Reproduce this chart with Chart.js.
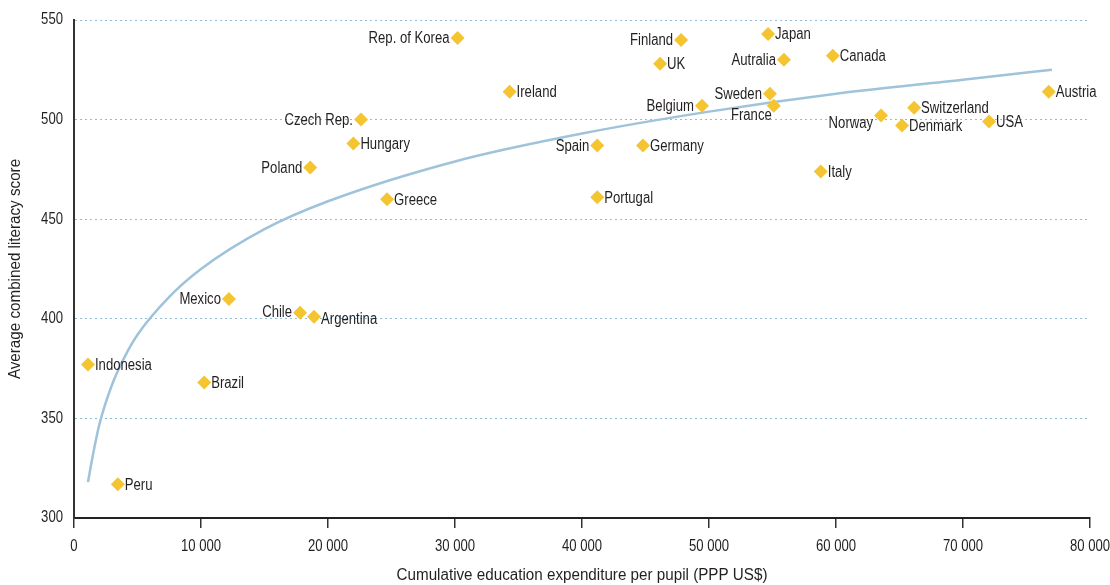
<!DOCTYPE html>
<html>
<head>
<meta charset="utf-8">
<script src="https://cdn.jsdelivr.net/npm/chart.js@4"></script>
<style>
  html, body { margin: 0; padding: 0; background: #fff; }
  #wrap { width: 1110px; height: 585px; }
</style>
</head>
<body>
<div id="wrap"><canvas id="chart-literacy"></canvas></div>
<script>
const FONT = "'Liberation Sans', Arial, sans-serif";
const TEXT_COLOR = "#231f20";
const NARROW = 0.82; // squeeze Liberation Sans into a narrow face

// countries, spending (PPP US$) and literacy score
const COUNTRIES = [
  "Rep. of Korea", "Ireland", "Czech Rep.", "Hungary", "Poland", "Greece",
  "Mexico", "Chile", "Argentina", "Indonesia", "Brazil", "Peru",
  "Finland", "UK", "Japan", "Autralia", "Canada", "Sweden", "France",
  "Belgium", "Spain", "Germany", "Portugal", "Italy", "Norway",
  "Switzerland", "Denmark", "USA", "Austria",
];
const SPENDING = [
  30200, 34300, 22600, 22000, 18600, 24650,
  12200, 17800, 18900, 1100, 10250, 3450,
  47800, 46150, 54650, 55900, 59750, 54800, 55100,
  49450, 41200, 44800, 41200, 58800, 63550,
  66150, 65200, 72050, 76750,
];
const SCORES = [
  541, 514, 500, 488, 476, 460,
  410, 403, 401, 377, 368, 317,
  540, 528, 543, 530, 532, 513, 507,
  507, 487, 487, 461, 474, 502,
  506, 497, 499, 514,
];

// trend curve
const TREND_X = [1100, 1500, 2000, 3000, 4000, 5000, 7500, 10000, 15000, 20000, 30000, 40000, 50000, 60000, 70000, 77000];
const TREND_Y = [318, 332, 347, 367, 381, 392, 411, 425, 445, 459, 479, 493, 504, 513, 520, 525];

const X_TICKS = [0, 10000, 20000, 30000, 40000, 50000, 60000, 70000, 80000];
const Y_TICKS = [300, 350, 400, 450, 500, 550];
const X_TITLE = "Cumulative education expenditure per pupil (PPP US$)";
const Y_TITLE = "Average combined literacy score";

// label placement: side of the marker, nudge in px
const LABEL_LEFT = ["Rep. of Korea", "Czech Rep.", "Poland", "Mexico", "Chile",
  "Finland", "Autralia", "Sweden", "Belgium", "Spain", "Norway", "France"];
const LABEL_NUDGE = { France: [6, 9], Norway: [0, 7], Argentina: [0, 2], Chile: [0, -1] };

const fmtThousands = (v) => String(v).replace(/\B(?=(\d{3})+(?!\d))/g, " ");

function narrowText(ctx, text, x, y, align, rot, squeeze = NARROW) {
  ctx.save();
  ctx.translate(x, y);
  if (rot) ctx.rotate(rot);
  ctx.scale(squeeze, 1);
  ctx.textAlign = align;
  ctx.fillText(text, 0, 0);
  ctx.restore();
}

const textLayer = {
  id: "textLayer",
  afterDraw(chart) {
    const ctx = chart.ctx;
    const { x, y } = chart.scales;
    const area = chart.chartArea;
    ctx.save();
    ctx.fillStyle = TEXT_COLOR;
    ctx.textBaseline = "middle";
    ctx.font = "16px " + FONT;

    // point labels
    chart.getDatasetMeta(0).data.forEach((pt, i) => {
      const name = COUNTRIES[i];
      const left = LABEL_LEFT.includes(name);
      const [nx, ny] = LABEL_NUDGE[name] || [0, 0];
      const px = left ? pt.x - 8 + nx : pt.x + 7 + nx;
      narrowText(ctx, name, px, pt.y + 1 + ny, left ? "right" : "left");
    });

    // tick labels
    Y_TICKS.forEach((v) => narrowText(ctx, String(v), area.left - 11, y.getPixelForValue(v), "right"));
    X_TICKS.forEach((v) => narrowText(ctx, fmtThousands(v), x.getPixelForValue(v), area.bottom + 29, "center"));

    // axis titles
    narrowText(ctx, X_TITLE, (area.left + area.right) / 2, area.bottom + 58, "center", 0, 0.95);
    narrowText(ctx, Y_TITLE, 16, (area.top + area.bottom) / 2, "center", -Math.PI / 2, 0.95);
    ctx.restore();
  },
};

new Chart(document.getElementById("chart-literacy"), {
  type: "scatter",
  data: {
    datasets: [
      {
        data: SPENDING.map((x, i) => ({ x, y: SCORES[i] })),
        pointStyle: "rectRot",
        pointRadius: 7,
        pointHoverRadius: 7,
        backgroundColor: "#f4c530",
        borderColor: "#f4c530",
        borderWidth: 0,
        order: 0,
      },
      {
        type: "line",
        data: TREND_X.map((x, i) => ({ x, y: TREND_Y[i] })),
        borderColor: "#9fc3da",
        borderWidth: 2.5,
        pointRadius: 0,
        cubicInterpolationMode: "monotone",
        fill: false,
        order: 1,
      },
    ],
  },
  options: {
    responsive: true,
    maintainAspectRatio: false,
    animation: false,
    layout: { padding: { top: 20, right: 20, left: 0, bottom: 0 } },
    plugins: { legend: { display: false }, tooltip: { enabled: false } },
    scales: {
      x: {
        type: "linear",
        min: 0,
        max: 80000,
        afterBuildTicks: (s) => { s.ticks = X_TICKS.map((v) => ({ value: v })); },
        afterFit: (s) => { s.height = 67; },
        grid: { drawOnChartArea: false, drawTicks: true, tickLength: 10, color: "#333", lineWidth: 1.5 },
        border: { display: true, color: "#222", width: 2 },
        ticks: { display: false },
      },
      y: {
        min: 300,
        max: 550,
        afterBuildTicks: (s) => { s.ticks = Y_TICKS.map((v) => ({ value: v })); },
        afterFit: (s) => { s.width = 74; },
        grid: { drawTicks: false, color: "#8fbcd6", lineWidth: 1 },
        border: { display: true, color: "#333", width: 2, dash: [2, 3] },
        ticks: { display: false },
      },
    },
  },
  plugins: [textLayer],
});
</script>
</body>
</html>
